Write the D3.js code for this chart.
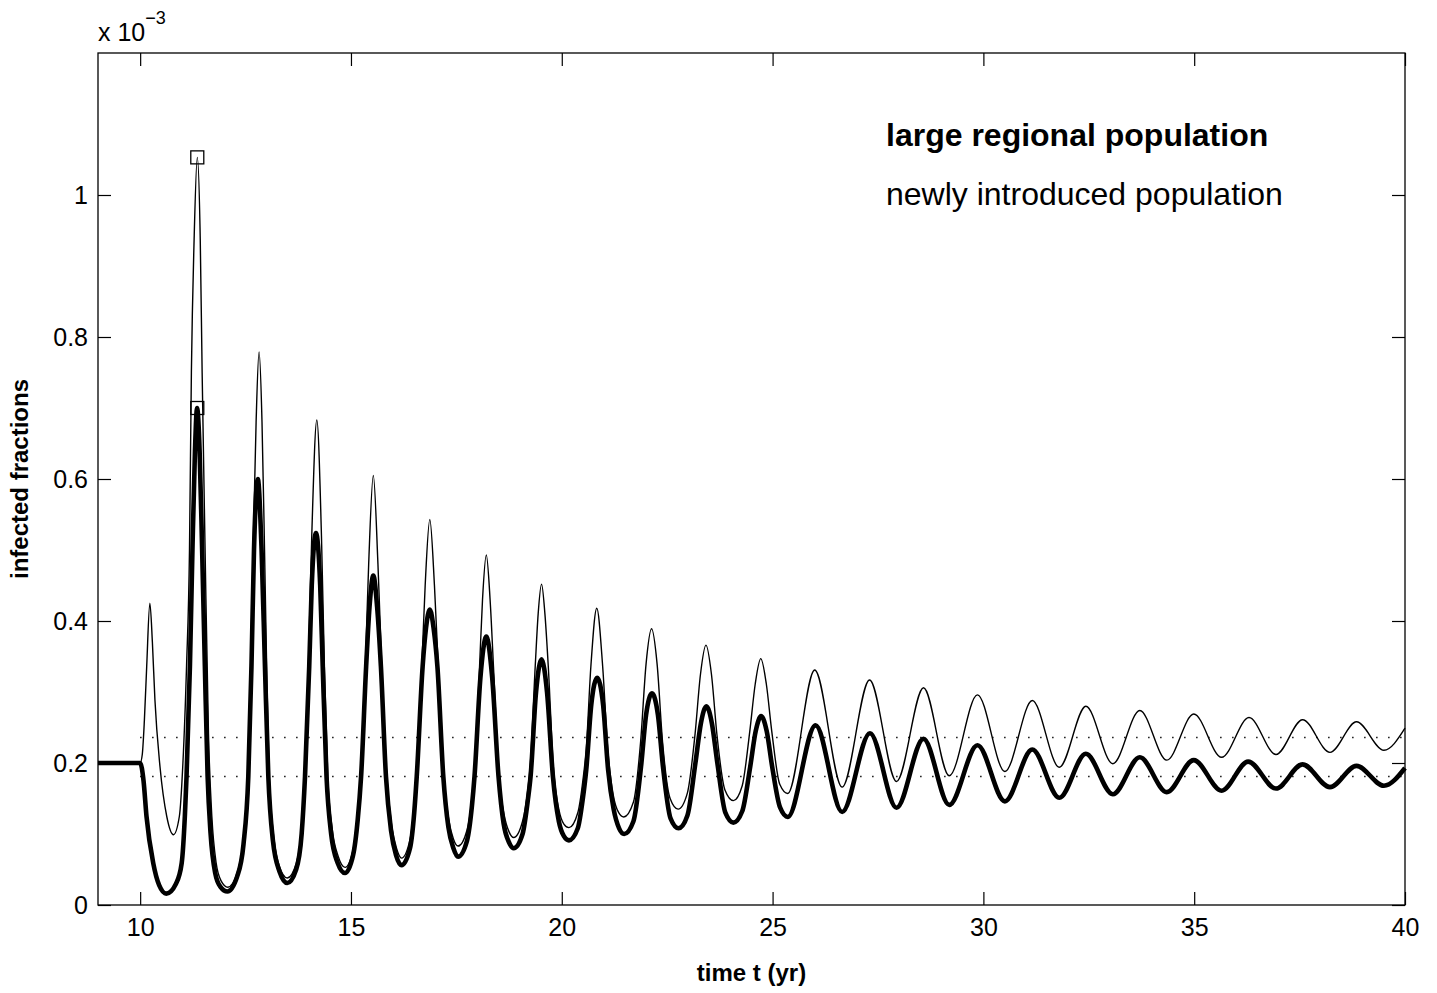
<!DOCTYPE html>
<html>
<head>
<meta charset="utf-8">
<script src="https://cdn.jsdelivr.net/npm/d3@7"></script>
<style>
  html, body { margin: 0; padding: 0; background: #fff; }
  svg { display: block; }
</style>
</head>
<body>
<div id="chart"></div>
<script>
// values are in units of 1e-3
const xTicks = [10, 15, 20, 25, 30, 35, 40];
const yTicks = [0, 0.2, 0.4, 0.6, 0.8, 1.0];
const yTickLabels = ["0", "0.2", "0.4", "0.6", "0.8", "1"];

// large regional population (thick line), [t, value]
const regional = [
  [9, 0.200], [10.0, 0.200], [10.08, 0.175], [10.15, 0.125], [10.31, 0.059], [10.45, 0.028], [10.62, 0.016],
  [10.85, 0.030], [10.985, 0.059], [11.06, 0.125], [11.1, 0.181], [11.18, 0.336], [11.24, 0.500], [11.30, 0.640],
  [11.35, 0.700], [11.41, 0.640], [11.47, 0.500], [11.535, 0.336], [11.6, 0.181], [11.67, 0.101], [11.78, 0.045],
  [11.9, 0.026], [12.07, 0.019],
  [12.3, 0.040], [12.45, 0.085], [12.565, 0.181], [12.64, 0.336], [12.70, 0.500], [12.79, 0.600], [12.88, 0.500],
  [12.96, 0.336], [13.04, 0.181], [13.15, 0.090], [13.3, 0.048], [13.49, 0.031],
  [13.7, 0.050], [13.83, 0.100], [13.91, 0.181], [14.01, 0.336], [14.07, 0.450], [14.17, 0.524], [14.27, 0.450],
  [14.33, 0.336], [14.42, 0.181], [14.53, 0.100], [14.68, 0.060], [14.86, 0.045],
  [15.05, 0.070], [15.16, 0.120], [15.24, 0.181], [15.36, 0.336], [15.44, 0.420], [15.53, 0.464], [15.62, 0.420],
  [15.71, 0.336], [15.83, 0.181], [15.95, 0.105], [16.07, 0.070], [16.2, 0.056],
  [16.4, 0.080], [16.5, 0.130], [16.56, 0.181], [16.7, 0.336], [16.78, 0.390], [16.87, 0.416], [16.96, 0.390],
  [17.05, 0.336], [17.19, 0.181], [17.31, 0.110], [17.43, 0.080], [17.54, 0.068],
  [17.75, 0.090], [17.87, 0.140], [17.93, 0.181], [18.07, 0.320], [18.21, 0.378], [18.35, 0.320], [18.5, 0.181],
  [18.62, 0.115], [18.75, 0.088], [18.86, 0.080],
  [19.07, 0.100], [19.2, 0.150], [19.26, 0.181], [19.39, 0.300], [19.52, 0.346], [19.65, 0.300], [19.79, 0.181],
  [19.93, 0.118], [20.05, 0.097], [20.17, 0.091],
  [20.38, 0.108], [20.5, 0.150], [20.58, 0.190], [20.7, 0.282], [20.84, 0.320], [20.98, 0.282], [21.1, 0.190],
  [21.23, 0.135], [21.36, 0.108], [21.48, 0.100],
  [21.7, 0.118], [21.88, 0.195], [22.0, 0.268], [22.14, 0.298], [22.28, 0.268], [22.4, 0.195], [22.58, 0.122], [22.77, 0.108],
  [22.98, 0.126], [23.17, 0.200], [23.3, 0.256], [23.43, 0.280], [23.56, 0.256], [23.69, 0.200], [23.88, 0.130], [24.07, 0.116],
  [24.28, 0.132], [24.47, 0.195], [24.6, 0.245], [24.73, 0.266], [24.86, 0.245], [24.99, 0.195], [25.18, 0.137], [25.36, 0.124],
  [26.02, 0.253], [26.65, 0.131], [27.31, 0.242], [27.94, 0.137], [28.58, 0.234], [29.19, 0.141],
  [29.86, 0.225], [30.51, 0.146], [31.16, 0.219], [31.8, 0.151], [32.43, 0.213], [33.07, 0.156],
  [33.71, 0.208], [34.35, 0.159], [34.99, 0.204], [35.65, 0.161], [36.28, 0.202], [36.94, 0.164],
  [37.57, 0.198], [38.22, 0.166], [38.85, 0.196], [39.5, 0.168], [40, 0.193],
];

// newly introduced population (thin line), [t, value]
const introduced = [
  [9, 0.200], [10.0, 0.200], [10.05, 0.212], [10.1, 0.260], [10.155, 0.336], [10.23, 0.425], [10.29, 0.370],
  [10.35, 0.289], [10.47, 0.195], [10.63, 0.125], [10.79, 0.099], [10.93, 0.125], [11.01, 0.195], [11.1, 0.336],
  [11.17, 0.500], [11.215, 0.750], [11.28, 0.938], [11.355, 1.053], [11.425, 0.938], [11.47, 0.750], [11.54, 0.500],
  [11.62, 0.242], [11.70, 0.125], [11.8, 0.060], [11.92, 0.034], [12.08, 0.025],
  [12.3, 0.045], [12.45, 0.095], [12.55, 0.181], [12.62, 0.336], [12.68, 0.500], [12.75, 0.680], [12.82, 0.779],
  [12.89, 0.680], [12.95, 0.500], [13.0, 0.336], [13.06, 0.181], [13.17, 0.095], [13.3, 0.055], [13.49, 0.038],
  [13.7, 0.058], [13.83, 0.110], [13.9, 0.181], [13.99, 0.336], [14.07, 0.520], [14.19, 0.683], [14.30, 0.520],
  [14.37, 0.336], [14.45, 0.181], [14.56, 0.105], [14.7, 0.068], [14.86, 0.053],
  [15.05, 0.078], [15.15, 0.125], [15.23, 0.181], [15.34, 0.336], [15.42, 0.480], [15.53, 0.605], [15.64, 0.480],
  [15.73, 0.336], [15.85, 0.181], [15.97, 0.110], [16.08, 0.080], [16.2, 0.066],
  [16.4, 0.092], [16.5, 0.140], [16.55, 0.181], [16.68, 0.336], [16.76, 0.450], [16.87, 0.543], [16.98, 0.450],
  [17.07, 0.336], [17.2, 0.181], [17.32, 0.120], [17.43, 0.093], [17.54, 0.083],
  [17.75, 0.105], [17.87, 0.150], [17.92, 0.181], [18.05, 0.336], [18.12, 0.430], [18.21, 0.493], [18.3, 0.430],
  [18.38, 0.336], [18.51, 0.181], [18.63, 0.128], [18.75, 0.103], [18.86, 0.095],
  [19.07, 0.118], [19.2, 0.165], [19.25, 0.195], [19.37, 0.336], [19.44, 0.410], [19.52, 0.452], [19.6, 0.410],
  [19.68, 0.336], [19.8, 0.195], [19.93, 0.135], [20.05, 0.114], [20.17, 0.109],
  [20.38, 0.130], [20.5, 0.175], [20.58, 0.220], [20.69, 0.336], [20.83, 0.418], [20.97, 0.336], [21.09, 0.220],
  [21.22, 0.155], [21.35, 0.130], [21.47, 0.124],
  [21.7, 0.145], [21.87, 0.230], [22.0, 0.340], [22.13, 0.389], [22.26, 0.340], [22.39, 0.230], [22.57, 0.150], [22.76, 0.135],
  [22.98, 0.158], [23.16, 0.240], [23.29, 0.325], [23.42, 0.366], [23.55, 0.325], [23.68, 0.240], [23.87, 0.162], [24.07, 0.147],
  [24.28, 0.168], [24.46, 0.245], [24.59, 0.312], [24.72, 0.347], [24.85, 0.312], [24.98, 0.245], [25.17, 0.170], [25.36, 0.157],
  [26.0, 0.331], [26.65, 0.166], [27.3, 0.317], [27.94, 0.174], [28.58, 0.306], [29.19, 0.182],
  [29.86, 0.296], [30.51, 0.188], [31.16, 0.288], [31.8, 0.194], [32.43, 0.280], [33.07, 0.199],
  [33.71, 0.274], [34.35, 0.204], [34.99, 0.269], [35.65, 0.208], [36.3, 0.264], [36.94, 0.212],
  [37.57, 0.261], [38.22, 0.215], [38.85, 0.258], [39.5, 0.218], [40, 0.249],
];

// equilibrium levels (dotted) and marked first peaks
const equilibria = [0.236, 0.181];
const equilibriumSpan = [10.0, 40];
const peakMarkers = [[11.355, 1.053], [11.355, 0.700]];

const legendLines = [
  { label: "large regional population", weight: "bold" },
  { label: "newly introduced population", weight: "normal" },
];

const font = "'Liberation Sans', Arial, Helvetica, sans-serif";
const width = 1437, height = 993;
const margin = { left: 98, right: 32, top: 53, bottom: 88 };
const innerWidth = width - margin.left - margin.right;
const innerHeight = height - margin.top - margin.bottom;

const svg = d3.select("#chart").append("svg")
  .attr("width", width).attr("height", height)
  .attr("viewBox", `0 0 ${width} ${height}`)
  .attr("font-family", font);

const x = d3.scaleLinear().domain([9, 40]).range([margin.left, margin.left + innerWidth]);
const y = d3.scaleLinear().domain([0, 1.2]).range([margin.top + innerHeight, margin.top]);

const tick = 13;
const styleAxis = (g) => {
  g.select(".domain").remove();
  g.selectAll(".tick line").attr("stroke", "#000").attr("stroke-width", 1.2);
  g.selectAll(".tick text").attr("fill", "#000").attr("font-family", font).attr("font-size", 25);
};

svg.append("g").attr("transform", `translate(0,${margin.top + innerHeight})`)
  .call(d3.axisBottom(x).tickValues(xTicks).tickSize(-tick).tickPadding(13).tickFormat(d3.format("d")))
  .call(styleAxis)
  .call((g) => g.selectAll("text").attr("dy", "0.71em"));
svg.append("g").attr("transform", `translate(0,${margin.top})`)
  .call(d3.axisTop(x).tickValues(xTicks).tickSize(-tick))
  .call(styleAxis)
  .call((g) => g.selectAll("text").remove());
svg.append("g").attr("transform", `translate(${margin.left},0)`)
  .call(d3.axisLeft(y).tickValues(yTicks).tickSize(-tick).tickPadding(10).tickFormat((_, i) => yTickLabels[i]))
  .call(styleAxis);
svg.append("g").attr("transform", `translate(${margin.left + innerWidth},0)`)
  .call(d3.axisRight(y).tickValues(yTicks).tickSize(-tick))
  .call(styleAxis)
  .call((g) => g.selectAll("text").remove());

// dotted equilibrium lines
svg.append("g").selectAll("line").data(equilibria).enter().append("line")
  .attr("x1", x(equilibriumSpan[0])).attr("x2", x(equilibriumSpan[1]))
  .attr("y1", (d) => y(d)).attr("y2", (d) => y(d))
  .attr("stroke", "#000").attr("stroke-width", 1.4).attr("stroke-dasharray", "1.4 10.6");

const line = d3.line().x((d) => x(d[0])).y((d) => y(d[1])).curve(d3.curveMonotoneX);

svg.append("path").datum(regional).attr("d", line)
  .attr("fill", "none").attr("stroke", "#000").attr("stroke-width", 4.6).attr("stroke-linejoin", "round");
svg.append("path").datum(introduced).attr("d", line)
  .attr("fill", "none").attr("stroke", "#000").attr("stroke-width", 1.4).attr("stroke-linejoin", "round");

const sq = 13;
svg.append("g").selectAll("rect").data(peakMarkers).enter().append("rect")
  .attr("x", (d) => x(d[0]) - sq / 2).attr("y", (d) => y(d[1]) - sq / 2)
  .attr("width", sq).attr("height", sq)
  .attr("fill", "none").attr("stroke", "#000").attr("stroke-width", 1.3);

// axes box
svg.append("rect").attr("x", margin.left).attr("y", margin.top).attr("width", innerWidth).attr("height", innerHeight)
  .attr("fill", "none").attr("stroke", "#000").attr("stroke-width", 1.3);

// exponent label
const expo = svg.append("text").attr("x", margin.left).attr("y", 41).attr("font-size", 25);
expo.append("tspan").text("x 10");
expo.append("tspan").attr("dy", -17).attr("font-size", 18).text("\u22123");

// legend-like text
svg.append("g").selectAll("text").data(legendLines).enter().append("text")
  .attr("x", 886).attr("y", (_, i) => 146 + i * 59)
  .attr("font-size", 32).attr("font-weight", (d) => d.weight)
  .text((d) => d.label);

svg.append("text").attr("x", margin.left + innerWidth / 2).attr("y", 981)
  .attr("text-anchor", "middle").attr("font-size", 24).attr("font-weight", "bold").text("time t (yr)");
svg.append("text")
  .attr("transform", `translate(28,${margin.top + innerHeight / 2}) rotate(-90)`)
  .attr("text-anchor", "middle").attr("font-size", 24).attr("font-weight", "bold").text("infected fractions");
</script>
</body>
</html>
